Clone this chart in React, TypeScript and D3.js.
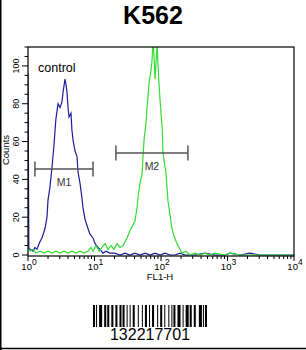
import * as d3 from "d3";

// FL1-H channel values and counts
const controlFl1 = [1.0, 1.03, 1.07, 1.19, 1.27, 1.36, 1.51, 1.62, 1.80, 1.93, 2.0, 2.14, 2.29, 2.46, 2.55, 2.63, 2.83, 3.03, 3.24, 3.36, 3.60, 3.73, 3.86, 4.0, 4.14, 4.43, 4.58, 4.75, 5.09, 5.46, 5.65, 6.05, 6.48, 6.72, 7.19, 7.98, 8.55, 9.49, 10.2, 11.3, 12.1, 13.4, 14.9, 17.1, 20.3, 24.2, 28.8, 34.2, 40.6, 48.4, 57.5, 68.4, 81.4, 96.8, 115, 137, 163, 193, 230, 324, 457, 648, 915, 1090, 1540, 2170, 3060, 10000];
const controlCounts = [96, 4, 3, 2, 4, 3, 7, 9, 14, 20, 29, 36, 46, 58, 66, 72, 80, 78, 81, 86, 93, 90, 86, 78, 73, 75, 66, 61, 55, 52, 44, 38, 30, 25, 19, 14, 11, 9, 6, 4, 3, 1, 2, 1, 1, 0, 1, 0, 1, 0, 1, 0, 1, 0, 1, 0, 0, 1, 0, 0, 1, 0, 0, 1, 0, 1, 0, 0];

const sampleFl1 = [1.0, 1.07, 1.19, 1.32, 1.51, 1.74, 2.0, 2.29, 2.63, 3.03, 3.48, 4.0, 4.58, 5.27, 6.05, 6.95, 7.98, 8.86, 9.49, 10.5, 11.7, 13.0, 14.4, 16.0, 17.7, 19.6, 21.8, 24.2, 26.8, 28.8, 30.9, 34.2, 36.7, 40.6, 43.6, 45.1, 48.4, 51.9, 53.7, 55.6, 59.6, 61.7, 63.9, 66.2, 70.9, 73.4, 75.9, 78.6, 81.4, 84.3, 87.3, 90.3, 93.5, 96.8, 100, 104, 107, 111, 119, 123, 127, 137, 146, 157, 174, 193, 207, 237, 272, 324, 386, 457, 545, 648, 915, 1090, 1540, 3060, 10000];
const sampleCounts = [4, 2, 3, 1, 2, 1, 2, 1, 2, 1, 2, 1, 2, 1, 2, 1, 2, 4, 2, 5, 2, 4, 6, 3, 5, 3, 6, 4, 5, 7, 9, 13, 15, 18, 25, 30, 38, 43, 52, 61, 70, 78, 84, 91, 98, 103, 115, 105, 93, 102, 112, 100, 90, 82, 75, 68, 55, 50, 43, 36, 29, 21, 14, 10, 6, 3, 1, 2, 0, 1, 0, 1, 0, 1, 0, 1, 0, 0, 0];

// markers
const markerNames = ["M1", "M2"];
const markerFrom = [1.27, 21.0];
const markerTo = [9.5, 254];
const markerLevel = [45.5, 54];

const yTickValues = [0, 20, 40, 60, 80, 100];
const xDecades = [0, 1, 2, 3, 4];

const barcodeText = "132217701";
const barcodePattern = "211232" + "212222" + "222122" + "121223" + "131222" + "122312" + "221312" + "112232" + "123122" + "2331112";

const FONT = "'Liberation Sans', Arial, sans-serif";

export default function App() {
  const left = 28, right = 294, top = 47, bottom = 256;
  const x = d3.scaleLog().domain([1, 10000]).range([left, right]);
  const y = d3.scaleLinear().domain([0, 110]).range([255, top]);

  const line = d3.line<[number, number]>().x(d => x(d[0])).y(d => y(d[1]));
  const controlPath = line(controlFl1.map((v, i) => [v, controlCounts[i]]) as [number, number][]) || "";
  const samplePath = line(sampleFl1.map((v, i) => [v, sampleCounts[i]]) as [number, number][]) || "";

  const minorY = d3.range(0, 111, 5);
  const minorX: number[] = [];
  for (let d = 0; d < 4; d++) for (let k = 2; k <= 9; k++) minorX.push(k * Math.pow(10, d));

  // barcode bars
  const bars: { x: number; w: number }[] = [];
  const modules = barcodePattern.split("").map(Number);
  const total = d3.sum(modules);
  const bx = d3.scaleLinear().domain([0, total]).range([93, 207]);
  let acc = 0;
  modules.forEach((m, i) => {
    if (i % 2 === 0) bars.push({ x: bx(acc), w: bx(acc + m) - bx(acc) });
    acc += m;
  });

  return (
    <div style={{ position: "fixed", left: 0, top: 0 }}>
      <svg width={306} height={350} style={{ display: "block", background: "#fff" }}>
        <defs>
          <clipPath id="plotClip">
            <rect x={left} y={top} width={right - left} height={bottom - top} />
          </clipPath>
        </defs>
        <line x1={0.75} y1={0} x2={0.75} y2={350} stroke="#000" strokeWidth={1.5} />
        <line x1={0} y1={348.5} x2={306} y2={348.5} stroke="#000" strokeWidth={1.5} />

        <text x={153} y={24} textAnchor="middle" fontFamily={FONT} fontWeight="bold" fontSize={25}>K562</text>

        <g clipPath="url(#plotClip)">
          <path d={controlPath} fill="none" stroke="#1c1c9c" strokeWidth={1.2} />
          <path d={samplePath} fill="none" stroke="#33dd33" strokeWidth={1.2} />
        </g>

        <rect x={left} y={top} width={right - left} height={bottom - top} fill="none" stroke="#000" strokeWidth={1.2} />

        {/* y ticks */}
        {minorY.map(v => (
          <line key={"ym" + v} x1={v % 20 === 0 ? left - 6 : left - 3.5} x2={left} y1={y(v)} y2={y(v)} stroke="#000" strokeWidth={1} />
        ))}
        {yTickValues.map(v => (
          <text key={"yl" + v} transform={`translate(19,${y(v)}) rotate(-90)`} textAnchor="middle" fontFamily={FONT} fontSize={9}>{v}</text>
        ))}
        <text transform={`translate(9,150) rotate(-90)`} textAnchor="middle" fontFamily={FONT} fontSize={9.5}>Counts</text>

        {/* x ticks */}
        {minorX.map(v => (
          <line key={"xm" + v} x1={x(v)} x2={x(v)} y1={bottom} y2={bottom + 3} stroke="#000" strokeWidth={1} />
        ))}
        {xDecades.map(d => (
          <line key={"xM" + d} x1={x(Math.pow(10, d))} x2={x(Math.pow(10, d))} y1={bottom} y2={bottom + 5} stroke="#000" strokeWidth={1} />
        ))}
        {xDecades.map(d => (
          <text key={"xl" + d} x={x(Math.pow(10, d)) + 1} y={270} textAnchor="middle" fontFamily={FONT} fontSize={9.5}>
            10<tspan dy={-5} fontSize={8.5}>{d}</tspan>
          </text>
        ))}
        <text x={160} y={280} textAnchor="middle" fontFamily={FONT} fontSize={9.5}>FL1-H</text>

        <text x={38} y={72} fontFamily={FONT} fontSize={12.5}>control</text>

        {markerNames.map((name, i) => {
          const x0 = x(markerFrom[i]), x1 = x(markerTo[i]), yy = y(markerLevel[i]);
          return (
            <g key={name} stroke="#555">
              <line x1={x0} x2={x1} y1={yy} y2={yy} strokeWidth={1.5} />
              <line x1={x0} x2={x0} y1={yy - 7.5} y2={yy + 7.5} strokeWidth={1.5} />
              <line x1={x1} x2={x1} y1={yy - 7.5} y2={yy + 7.5} strokeWidth={1.5} />
              <text x={(x0 + x1) / 2} y={yy + 17} textAnchor="middle" fontFamily={FONT} fontSize={10.5} fill="#333" stroke="none">{name}</text>
            </g>
          );
        })}

        {bars.map((b, i) => (
          <rect key={"b" + i} x={b.x} y={305} width={b.w} height={22} fill="#000" />
        ))}
        <text x={150} y={340} textAnchor="middle" fontFamily={FONT} fontSize={16}>{barcodeText}</text>
      </svg>
    </div>
  );
}
